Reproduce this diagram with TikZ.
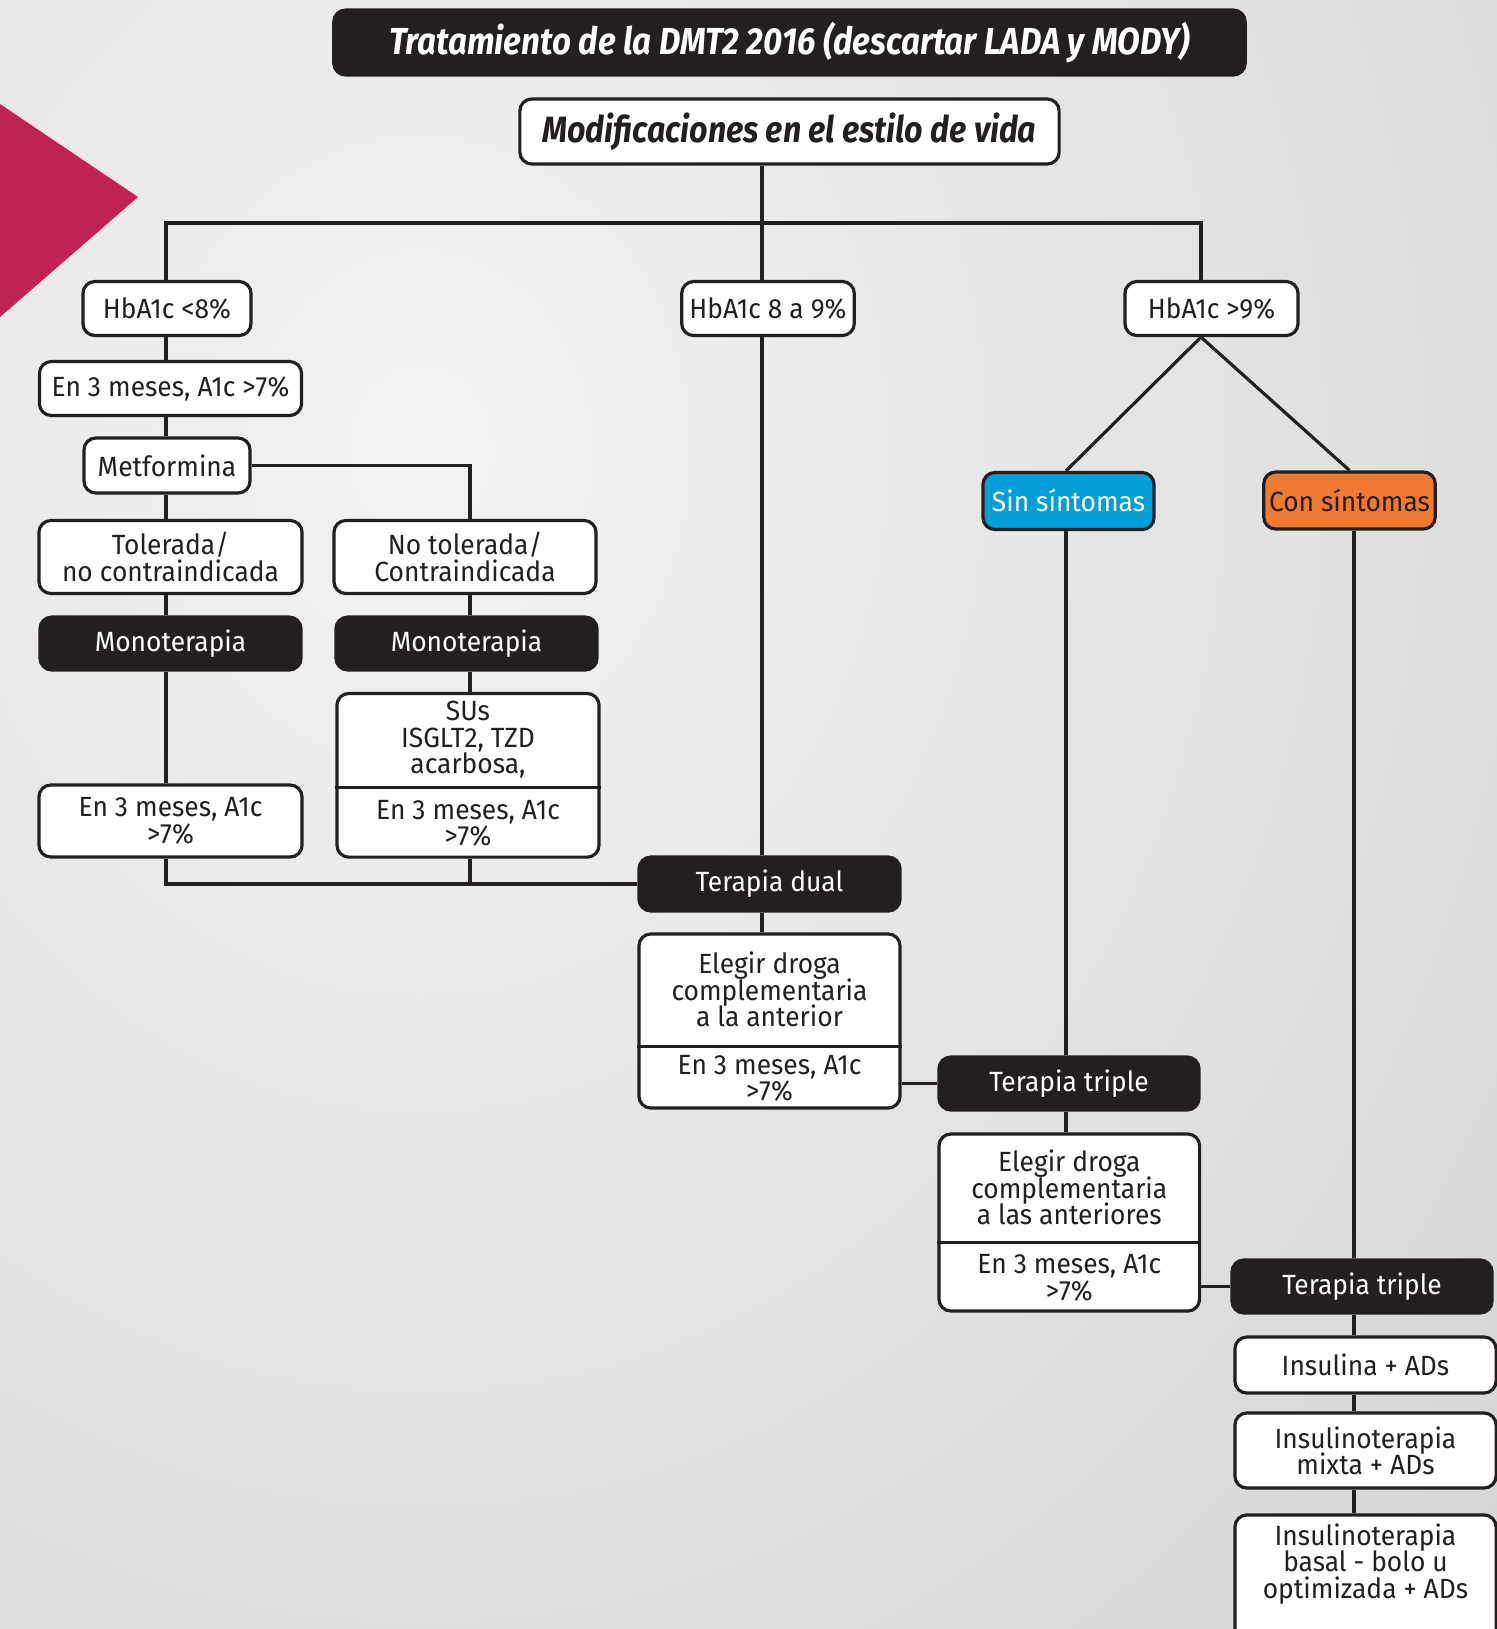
\documentclass[tikz,border=0pt]{standalone}
\usepackage{fontspec}
\setmainfont[FakeStretch=0.95]{Fira Sans}
\newfontfamily\headfont[FakeStretch=0.88]{Fira Sans}
\definecolor{ink}{HTML}{231F20}
\definecolor{bglight}{HTML}{F3F3F3}
\definecolor{bgdark}{HTML}{C2C2C2}
\definecolor{crimson}{HTML}{C02253}
\definecolor{skyblue}{HTML}{009FDA}
\definecolor{tangerine}{HTML}{F07A32}
\newcommand\boxfont{\fontsize{7.9pt}{7.5pt}\selectfont\lineskiplimit=-3pt}
\tikzset{
  box/.style={draw=ink, fill=white, rounded corners=3.4pt, line width=0.9pt, text=ink,
    align=center, inner sep=0pt, font=\boxfont},
  darkbox/.style={box, fill=ink, text=white},
  parttext/.style={text=ink, align=center, inner sep=0pt, font=\boxfont},
  headtext/.style={font=\headfont\bfseries\itshape\fontsize{#1}{12pt}\selectfont},
  wire/.style={draw=ink, line width=0.9pt},
}
\begin{document}
\begin{tikzpicture}[x=0.01cm, y=-0.01cm]
\useasboundingbox (0,0) rectangle (1497,1629);
\begin{scope}
  \clip (0,0) rectangle (1497,1629);
  \fill[bgdark] (0,0) rectangle (1497,1629);
  \shade[inner color=bglight, outer color=bgdark] (420,450) ellipse [x radius=24cm, y radius=28cm];
\end{scope}
\fill[crimson] (0,104) -- (138,197) -- (0,317) -- cycle;

\node[darkbox, headtext=10.7pt, minimum width=9.11cm, minimum height=0.65cm] (title) at (789.5,42.5)
  {Tratamiento de la DMT2 2016 (descartar LADA y MODY)};
\node[box, headtext=10.4pt, minimum width=5.39cm, minimum height=0.65cm] (mod) at (789.5,131.5)
  {Modificaciones en el estilo de vida};

\node[box, minimum width=1.68cm, minimum height=0.54cm] (hbA) at (167,308.5) {HbA1c <8\%};
\node[box, minimum width=1.725cm, minimum height=0.54cm] (hbB) at (768,308.5) {HbA1c 8 a 9\%};
\node[box, minimum width=1.73cm, minimum height=0.54cm] (hbC) at (1211.5,308.5) {HbA1c >9\%};

\node[box, minimum width=2.62cm, minimum height=0.54cm] (meses0) at (170.5,388.5) {En 3 meses, A1c >7\%};
\node[box, minimum width=1.66cm, minimum height=0.55cm] (metf) at (167,465.5) {Metformina};
\node[box, minimum width=2.63cm, minimum height=0.73cm] (toler) at (170.5,557) {Tolerada/\\no contraindicada};
\node[box, minimum width=2.62cm, minimum height=0.73cm] (notoler) at (465,557) {No tolerada/\\Contraindicada};
\node[darkbox, minimum width=2.61cm, minimum height=0.53cm] (monoA) at (170.5,643.5) {Monoterapia};
\node[darkbox, minimum width=2.61cm, minimum height=0.53cm] (monoB) at (466.5,643.5) {Monoterapia};
\node[box, minimum width=2.63cm, minimum height=0.72cm] (mesesA) at (170.5,821) {En 3 meses, A1c\\>7\%};

\node[box, minimum width=2.62cm, minimum height=1.636cm] (susbox) at (468,775.3) {};
\node[parttext, anchor=north, minimum height=0.944cm] (sus) at (susbox.north) {SUs\\ISGLT2, TZD\\acarbosa,};
\node[parttext, anchor=south, minimum height=0.69cm] (sus3) at (susbox.south) {En 3 meses, A1c\\>7\%};
\draw[wire] (sus.south -| susbox.west) -- (sus.south -| susbox.east);

\node[darkbox, minimum width=2.61cm, minimum height=0.54cm] (dual) at (769.5,884) {Terapia dual};
\node[box, minimum width=2.61cm, minimum height=1.74cm] (elegbox1) at (769.5,1021) {};
\node[parttext, anchor=north, minimum height=1.127cm] (eleg1) at (elegbox1.north) {Elegir droga\\complementaria\\a la anterior};
\node[parttext, anchor=south, minimum height=0.613cm] (eleg1m) at (elegbox1.south) {En 3 meses, A1c\\>7\%};
\draw[wire] (eleg1.south -| elegbox1.west) -- (eleg1.south -| elegbox1.east);

\node[box, fill=skyblue, text=white, minimum width=1.71cm, minimum height=0.57cm] (sin) at (1068.5,501) {Sin síntomas};
\node[box, fill=tangerine, minimum width=1.715cm, minimum height=0.57cm] (con) at (1349.5,500.5) {Con síntomas};

\node[darkbox, minimum width=2.6cm, minimum height=0.53cm] (triple1) at (1069,1083.5) {Terapia triple};
\node[box, minimum width=2.605cm, minimum height=1.77cm] (elegbox2) at (1069.3,1222.5) {};
\node[parttext, anchor=north, minimum height=1.09cm] (eleg2) at (elegbox2.north) {Elegir droga\\complementaria\\a las anteriores};
\node[parttext, anchor=south, minimum height=0.68cm] (eleg2m) at (elegbox2.south) {En 3 meses, A1c\\>7\%};
\draw[wire] (eleg2.south -| elegbox2.west) -- (eleg2.south -| elegbox2.east);

\node[darkbox, minimum width=2.6cm, minimum height=0.53cm] (triple2) at (1362,1286.5) {Terapia triple};
\node[box, minimum width=2.61cm, minimum height=0.56cm] (ins1) at (1365.5,1365) {Insulina + ADs};
\node[box, minimum width=2.61cm, minimum height=0.75cm] (ins2) at (1365.5,1450.5) {Insulinoterapia\\mixta + ADs};
\node[box, minimum width=2.61cm, minimum height=1.4cm] (ins3) at (1365.5,1585) {};
\node[parttext] (ins3txt) at (1365.5,1564) {Insulinoterapia\\basal - bolo u\\optimizada + ADs};

\coordinate (cA) at (166,0);
\coordinate (cB) at (470,0);
\coordinate (cC) at (762,0);
\coordinate (cD) at (1066,0);
\coordinate (cE) at (1354,0);
\coordinate (cF) at (1201,0);
\coordinate (bar) at (762,223);

\draw[wire] (mod.south -| cC) -- (hbB.north -| cC);
\draw[wire] (hbA.north -| cA) |- (bar) -| (hbC.north -| cF);
\draw[wire] (hbA.south -| cA) -- (meses0.north -| cA);
\draw[wire] (meses0.south -| cA) -- (metf.north -| cA);
\draw[wire] (metf.south -| cA) -- (toler.north -| cA);
\draw[wire] (toler.south -| cA) -- (monoA.north -| cA);
\draw[wire] (monoA.south -| cA) -- (mesesA.north -| cA);
\draw[wire] (mesesA.south -| cA) |- (dual.west);
\draw[wire] (metf.east) -| (notoler.north -| cB);
\draw[wire] (notoler.south -| cB) -- (monoB.north -| cB);
\draw[wire] (monoB.south -| cB) -- (susbox.north -| cB);
\draw[wire] (susbox.south -| cB) -- (cB |- dual.west);
\draw[wire] (hbB.south -| cC) -- (dual.north -| cC);
\draw[wire] (dual.south -| cC) -- (elegbox1.north -| cC);
\draw[wire] (elegbox1.east |- triple1) -- (triple1.west);
\draw[wire] (hbC.south -| cF) -- (sin.north -| cD);
\draw[wire] (hbC.south -| cF) -- (con.north);
\draw[wire] (sin.south -| cD) -- (triple1.north -| cD);
\draw[wire] (triple1.south -| cD) -- (elegbox2.north -| cD);
\draw[wire] (elegbox2.east |- triple2) -- (triple2.west);
\draw[wire] (con.south -| cE) -- (triple2.north -| cE);
\draw[wire] (triple2.south -| cE) -- (ins1.north -| cE);
\draw[wire] (ins1.south -| cE) -- (ins2.north -| cE);
\draw[wire] (ins2.south -| cE) -- (ins3.north -| cE);
\end{tikzpicture}
\end{document}
